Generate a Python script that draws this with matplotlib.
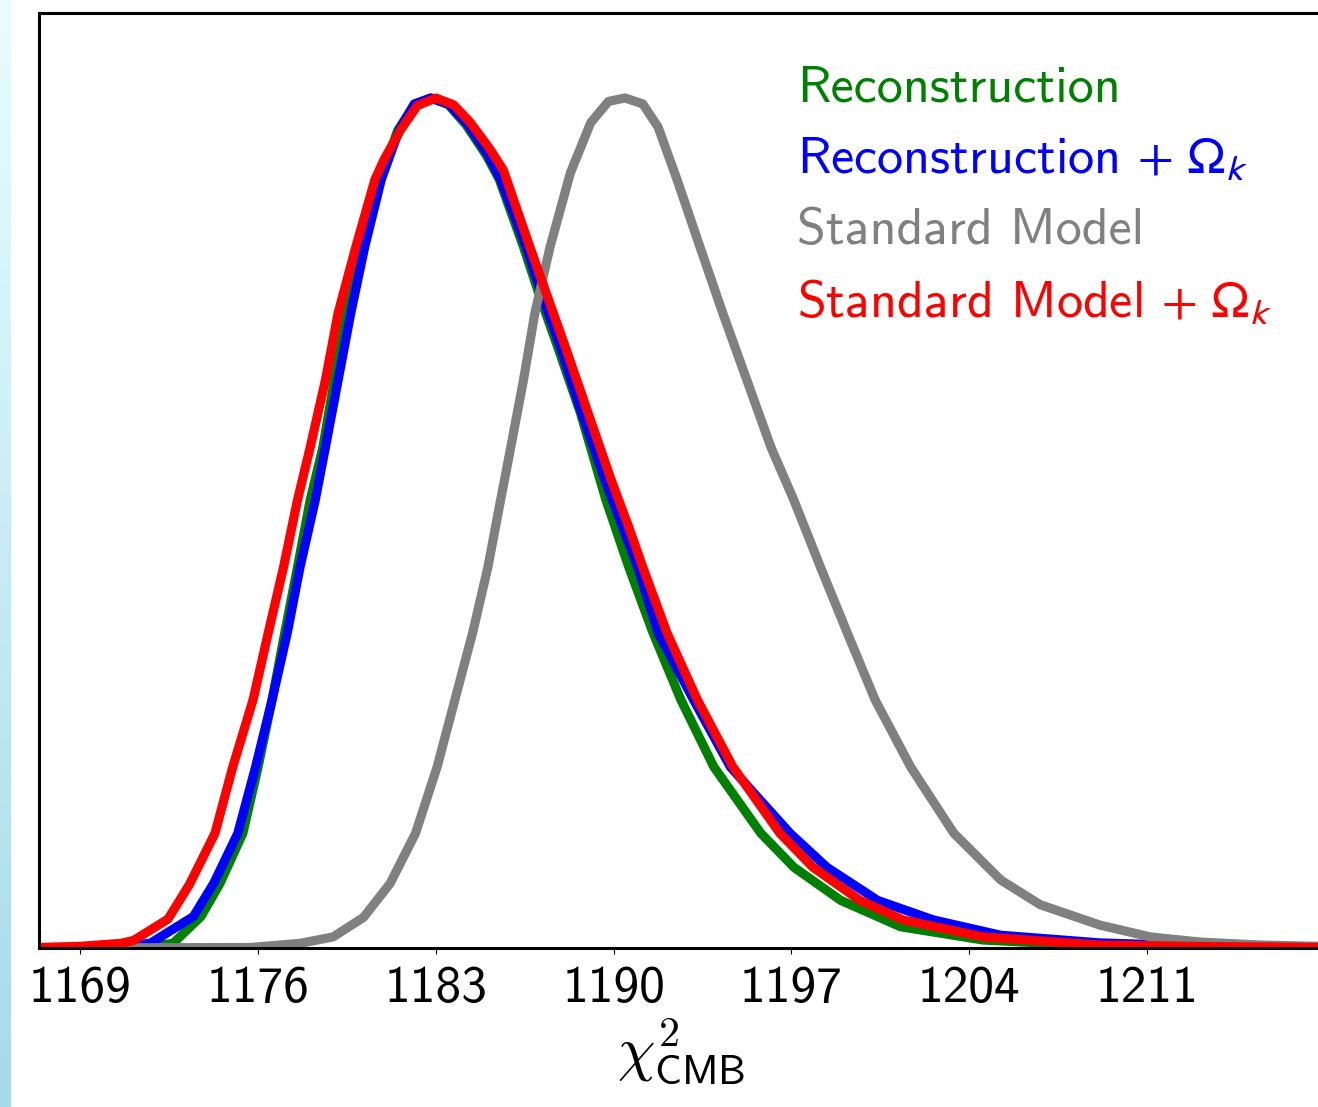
import matplotlib
matplotlib.use("Agg")
import matplotlib.pyplot as plt
import numpy as np

plt.rcParams['font.family'] = ['cmss10', 'DejaVu Sans']
plt.rcParams['axes.unicode_minus'] = False

# chi^2_CMB posteriors (normalised to peak = 1)
x_rec = [1167.35, 1169.0, 1171.75, 1172.65, 1173.75, 1174.5, 1175.4, 1176.0, 1176.55, 1177.05,
         1177.55, 1178.05, 1178.55, 1179.0, 1179.5, 1180.1, 1180.8, 1181.5, 1182.15, 1182.8,
         1183.5, 1184.2, 1185.0, 1185.5, 1186.45, 1187.1, 1187.8, 1188.7, 1189.7, 1190.6, 1191.55,
         1192.65, 1193.95, 1195.8, 1197.1, 1198.95, 1201.3, 1204.55, 1209.15, 1213.1, 1218.0]
y_rec = [0.0, 0.0, 0.002, 0.0055, 0.037, 0.076, 0.135, 0.213, 0.292, 0.371,
         0.448, 0.527, 0.589, 0.668, 0.747, 0.825, 0.904, 0.962, 0.992, 1.0,
         0.992, 0.968, 0.932, 0.904, 0.825, 0.766, 0.707, 0.629, 0.527, 0.448, 0.371,
         0.292, 0.213, 0.135, 0.095, 0.056, 0.025, 0.0094, 0.0024, 0.0006, 0.0]

x_rec_ok = [1167.35, 1169.0, 1170.6, 1171.75, 1173.45, 1174.25, 1175.2, 1175.9, 1176.55, 1177.15,
            1177.65, 1178.25, 1178.65, 1179.15, 1179.65, 1180.2, 1180.85, 1181.55, 1182.15, 1182.8,
            1183.5, 1184.25, 1185.05, 1185.55, 1186.55, 1187.2, 1187.9, 1188.75, 1189.65, 1190.35, 1190.95,
            1191.75, 1193.15, 1194.6, 1196.95, 1198.4, 1200.4, 1202.6, 1205.25, 1209.15, 1213.1, 1218.0]
y_rec_ok = [0.0, 0.0006, 0.002, 0.0055, 0.037, 0.076, 0.135, 0.213, 0.292, 0.371,
            0.448, 0.527, 0.589, 0.668, 0.747, 0.825, 0.904, 0.962, 0.993, 1.0,
            0.993, 0.969, 0.933, 0.904, 0.825, 0.766, 0.707, 0.629, 0.551, 0.495, 0.448,
            0.371, 0.292, 0.213, 0.135, 0.095, 0.056, 0.033, 0.015, 0.006, 0.0024, 0.0006]

x_sm = [1167.35, 1175.7, 1177.65, 1178.95, 1180.15, 1181.2, 1182.2, 1183.05, 1183.75, 1184.45,
        1185.05, 1185.55, 1185.95, 1186.45, 1186.9, 1187.5, 1188.3, 1189.1, 1189.8, 1190.45,
        1191.15, 1191.75, 1192.5, 1193.4, 1194.3, 1195.25, 1196.2, 1197.1, 1198.15, 1199.2,
        1200.3, 1201.7, 1203.4, 1205.25, 1206.8, 1209.15, 1211.15, 1213.1, 1215.45, 1218.0]
y_sm = [0.0, 0.0006, 0.0055, 0.013, 0.036, 0.076, 0.135, 0.213, 0.292, 0.371,
        0.448, 0.527, 0.589, 0.668, 0.747, 0.825, 0.912, 0.971, 0.996, 1.0,
        0.993, 0.966, 0.904, 0.825, 0.747, 0.668, 0.589, 0.527, 0.448, 0.371,
        0.292, 0.213, 0.135, 0.080, 0.051, 0.027, 0.013, 0.007, 0.0035, 0.0018]

x_sm_ok = [1167.35, 1169.0, 1170.6, 1171.1, 1172.45, 1173.3, 1174.3, 1175.0, 1175.8, 1176.4,
           1177.0, 1177.55, 1178.05, 1178.65, 1179.15, 1179.85, 1180.6, 1180.95, 1181.6, 1182.27,
           1183.0, 1183.7, 1184.36, 1185.15, 1185.66, 1186.7, 1187.4, 1188.1, 1189.0, 1189.9, 1190.6,
           1191.15, 1192.1, 1193.3, 1194.7, 1196.55, 1197.85, 1199.7, 1201.4, 1204.55, 1209.15,
           1213.1, 1218.0]
y_sm_ok = [0.0006, 0.002, 0.0055, 0.009, 0.034, 0.075, 0.135, 0.213, 0.292, 0.371,
           0.448, 0.527, 0.589, 0.668, 0.747, 0.825, 0.904, 0.927, 0.962, 0.991,
           1.0, 0.992, 0.971, 0.939, 0.915, 0.825, 0.766, 0.707, 0.629, 0.551, 0.495,
           0.448, 0.371, 0.292, 0.213, 0.135, 0.095, 0.056, 0.033, 0.013, 0.0035,
           0.0018, 0.0006]

labels = ["Reconstruction", r"Reconstruction $+\ \Omega_k$",
          "Standard Model", r"Standard Model $+\ \Omega_k$"]
colors = ["green", "blue", "gray", "red"]
ticks = [1169, 1176, 1183, 1190, 1197, 1204, 1211]

fig = plt.figure(figsize=(13.18, 11.07), dpi=100)

# light blue strip at the left edge (slide background)
bg = fig.add_axes([0, 0, 11 / 1318, 1])
bg.imshow(np.linspace(0, 1, 256).reshape(-1, 1), aspect='auto',
          cmap=matplotlib.colors.LinearSegmentedColormap.from_list("strip", ["#e8fefe", "#a6daea"]))
bg.axis('off')

ax = fig.add_axes([38.5 / 1318, 159 / 1107, 1286 / 1318, 935 / 1107])
lines = []
for xs, ys, c in zip([x_rec, x_rec_ok, x_sm, x_sm_ok], [y_rec, y_rec_ok, y_sm, y_sm_ok], colors):
    l, = ax.plot(xs, ys, color=c, lw=6.6, solid_capstyle='round', solid_joinstyle='round')
    lines.append(l)

ax.set_xlim(1167.35, 1218.0)
ax.set_ylim(0, 1.1)
ax.set_xticks(ticks)
ax.set_xticklabels([str(t) for t in ticks])
ax.set_yticks([])
ax.tick_params(axis='x', labelsize=37, length=4, width=0.8, pad=9)
for s in ax.spines.values():
    s.set_linewidth(2.2)

ax.set_xlabel(r"$\chi^{\mathsf{2}}_{\mathsf{CMB}}$", fontsize=43, math_fontfamily='cm', labelpad=3)

leg = ax.legend(lines, labels, loc='upper left', bbox_to_anchor=(0.59, 0.944),
                frameon=False, handlelength=0, handletextpad=0, borderpad=0,
                borderaxespad=0, labelspacing=0.47, fontsize=37.5, labelcolor='linecolor')
for t in leg.get_texts():
    t.set_math_fontfamily('stixsans')

fig.savefig("out.png", dpi=100)
